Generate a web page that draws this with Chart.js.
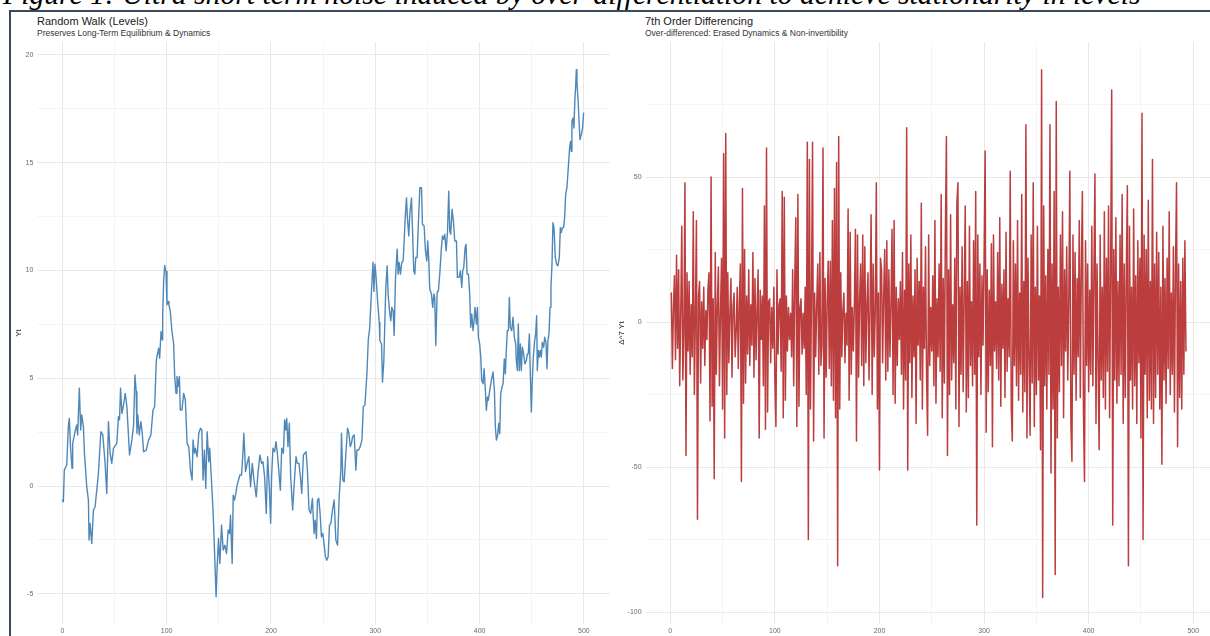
<!DOCTYPE html>
<html><head><meta charset="utf-8">
<script src="https://cdn.jsdelivr.net/npm/chart.js@4"></script>
<style>
html,body{margin:0;padding:0;background:#fff;width:1210px;height:636px;overflow:hidden;position:relative;font-family:"Liberation Sans",Arial,sans-serif;}
#cap{position:absolute;left:3px;top:-20px;font:italic 29.7px/29.7px "Liberation Serif","Times New Roman",serif;white-space:nowrap;color:#000;}
.vline{position:absolute;left:9px;top:10px;width:2px;height:626px;background:#3a4a5e;}
.hline{position:absolute;left:9px;top:10px;width:1201px;height:2px;background:#3a4a5e;}
.t{position:absolute;font-size:11px;line-height:12px;color:#1a1a1a;white-space:nowrap}
.s{position:absolute;font-size:8.5px;line-height:9px;color:#333;white-space:nowrap}
canvas{position:absolute;top:0}
</style></head><body>
<div id="cap">Figure 1: Ultra short term noise induced by over-differentiation to achieve stationarity in levels</div>
<div class="hline"></div><div class="vline"></div>
<div class="t" style="left:37px;top:15px">Random Walk (Levels)</div>
<div class="s" style="left:37px;top:28.5px">Preserves Long-Term Equilibrium &amp; Dynamics</div>
<div class="t" style="left:645px;top:15px">7th Order Differencing</div>
<div class="s" style="left:645px;top:28.5px">Over-differenced: Erased Dynamics &amp; Non-invertibility</div>
<canvas id="c1" width="612" height="636" style="left:0"></canvas>
<canvas id="c2" width="610" height="636" style="left:600px"></canvas>
<script>
// ---- Data ----
const rwT = [0,1,1.9,4.2,5.8,6.7,8.0,9.3,9.9,12.2,
13.8,14.7,16.3,17.6,18.6,20.2,21.2,23.4,25,25.6,
26.6,28.2,29.8,31.4,34.6,36.9,38.8,41,42.6,44.2,
45.8,47.4,49,52.2,53.8,54.8,55.8,57.1,58.7,60.3,
61.9,64.4,66.7,68.3,69.6,70.8,71.5,72.4,73.7,75.3,
76.6,77.9,80.4,82.7,84.9,86.9,88.5,90.1,92.3,93.3,
94.6,95.8,96.2,97.1,98.1,99.4,100.3,101.3,102.2,103.5,
105.1,106.7,107.7,109,109.9,110.9,112.2,113.1,114.7,116.3,
117.9,119.6,121.2,122.8,124.4,125.3,126.6,127.6,129.2,130.8,
132.4,133.7,134.9,136.2,137.5,138.8,140.4,141.3,142.6,144.6,
146.2,147.4,148.4,149.7,151,152.6,154.2,155.8,157.4,159,
160.3,161.2,162.8,163.8,165.1,166.3,167.6,168.9,170.2,171.8,
173.1,174,175.6,177.2,178.8,180.4,182.1,183.7,185.9,187.5,
189.4,191,192.3,193.9,195.5,196.8,198.4,199.7,200.6,201.9,
203.5,204.8,206.1,207.7,209,210.3,211.9,213.1,214.1,215.1,
216.3,217.6,218.9,220.8,222.1,224,225.3,226.9,228.5,229.5,
231.1,232.4,233.7,234.9,236.5,238.1,239.7,241.3,242.3,243.6,
244.6,245.8,247.1,248.4,249.7,251,252.2,253.5,254.8,256.1,
257.4,259,260.6,262.2,263.8,265.4,267,267.6,268.9,270.2,
271.8,273.4,274.7,276,277.2,278.2,279.8,281.4,282.4,284,
285.6,287.2,288.5,290.1,292,293.3,294.6,295.8,296.8,297.8,
298.7,299.7,300.6,302.2,303.8,304.4,306,306.9,308.2,309.1,
310.1,311.4,312.3,313.9,314.9,315.8,317.1,318.1,319.4,321,
321.9,322.9,324.1,325.4,326.7,327.7,328.6,329.9,330.8,332.1,
333.1,334.7,335.6,336.9,337.9,338.8,340.1,341.4,342.7,344.3,
345.2,346.8,348.1,349.4,350.3,351.3,352.2,353.8,355.1,356.1,
357,358,359.3,360.5,361.8,363.4,364.4,365.6,366.6,367.9,
369.2,370.4,371.4,372.3,373.6,374.9,376.2,377.8,378.7,380.3,
381.6,382.9,383.8,384.8,386.1,387,388,389.3,390.5,391.5,
392.5,393.7,394.7,395.6,396.9,397.9,398.8,400.1,401.1,402,
403.3,404.3,405.5,406.5,407.5,408.4,409.7,411.3,412.9,414.2,
415.1,416.1,417.3,418.3,419.3,420.2,421.5,422.5,423.7,424.7,
425.6,426.6,427.6,428.5,429.4,430.8,432,433.3,434.6,435.2,
436.2,437.1,438.1,439.1,440,441,442.2,443.5,444.8,445.8,
446.7,447.7,448.6,449.6,450.5,451.5,452.8,453.7,454.7,455.3,
456.3,457.2,458.2,459.2,460.1,461.4,462.4,463.6,464.6,465.5,
466.5,467.5,468.4,469.4,470.3,471.3,472.6,473.8,475.1,476.4,
477.4,478.3,479.3,480.5,481.5,482.5,483.7,485,486.3,487.2,
487.9,488.5,489.5,490.4,491.4,492,492.7,493.3,494.3,495.2,
496.2,497.5,498.7,499.7];
const rwY = [-0.65,-0.73,0.74,0.98,2.76,3.14,1.67,0.82,1.98,2.52,
2.83,2.37,4.54,2.6,3.3,2.76,1.52,-0.03,-0.65,-2.5,
-1.73,-2.66,-1.11,-0.96,0.59,2.52,2.37,1.05,-0.34,2.99,
1.52,1.05,1.75,1.98,3.22,3.07,4.54,3.37,3.76,4.3,
3.68,1.44,2.14,2.83,5.15,4.38,2.45,3.3,2.37,2.99,
2.45,1.59,1.67,2.14,2.37,3.53,3.68,5.85,6.39,5.93,
7.17,6.78,7.94,9.49,10.23,9.95,8.41,8.56,8.41,8.1,
7.17,6.6,5.08,4.3,5.08,4.61,5.08,3.53,3.53,4.3,
3.99,1.98,1.83,0.74,0.28,2.14,1.52,1.75,1.36,2.45,
2.68,2.6,0.28,1.67,-0.11,2.52,1.13,1.75,0.59,-1.27,
-3.44,-5.14,-3.75,-2.43,-3.59,-1.81,-2.97,-2.74,-3.13,-2.04,
-2.2,-1.35,-3.59,-0.42,-0.65,-0.34,0.05,0.28,0.51,0.51,
1.52,2.45,0.67,1.05,1.36,-0.03,1.05,0.28,-0.5,0.59,
1.44,1.05,1.13,0.43,-1.27,1.36,-0.03,-1.73,0.43,1.75,
1.59,2.06,1.52,0.59,-0.19,1.75,1.52,3.07,2.6,3.14,
1.83,2.91,0.43,-1.11,-0.03,1.36,1.05,1.05,0.28,-0.34,
1.44,1.52,1.59,0.74,-1.11,-1.27,-0.57,-2.2,-1.58,-2.43,
-0.65,-0.57,-1.27,-2.35,-2.2,-2.74,-3.28,-3.44,-3.28,-1.81,
-1.73,-1.11,-0.65,-2.5,-2.74,-0.5,0.74,2.45,0.28,0.2,
1.52,2.68,2.45,1.83,1.98,2.29,2.37,0.74,1.67,1.67,
1.83,2.14,3.68,3.76,5.23,6.8,7.3,8.5,9.49,10.39,
9.03,10.29,9.8,8.6,7.6,6.75,6.59,4.82,5.82,7.52,
9.21,10.22,8.91,7.98,7.67,8.29,8.14,6.98,9.68,10.99,
9.83,10.37,9.83,10.37,10.45,11.37,12.37,13.37,12.45,11.6,
12.6,13.37,11.99,9.98,9.83,10.6,10.6,12.3,13.84,13.84,
12.14,12.06,10.91,10.45,11.37,10.45,9.14,8.91,8.29,8.91,
8.75,6.52,8.98,9.06,9.83,11.06,11.6,11.45,11.68,10.91,
11.76,13.68,11.83,11.68,12.84,12.3,11.37,11.37,9.68,9.68,
9.98,9.21,9.98,10.14,11.06,11.22,9.83,9.83,8.91,7.37,
7.98,7.21,7.67,8.29,7.52,8.29,6.9,6.59,5.98,4.9,
4.75,5.44,4.44,3.51,4.13,3.98,4.44,4.9,5.29,4.44,
2.74,2.13,2.36,2.9,2.43,4.28,4.59,4.75,5.9,5.21,
6.29,7.21,7.21,8.75,7.37,7.21,7.83,6.9,6.59,5.82,
5.36,7.52,5.36,6.59,5.36,6.44,6.13,5.67,5.82,6.13,
6.13,7.06,5.21,3.44,4.9,5.98,6.75,7.06,7.9,5.36,
6.29,5.98,6.29,5.98,6.67,6.44,6.9,6.67,5.44,6.75,
7.06,8.29,9.21,10.29,12.22,11.99,10.6,10.29,10.22,10.6,
11.99,11.76,11.99,11.99,12.45,13.53,13.84,14.76,15.69,15.99,
15.53,16.92,17.07,16.61,18.0,18.46,19.31,18.69,18.0,17.07,
16.07,16.3,16.61,17.3];

const d7Y = [10,-16,5,16,-13,23,-9,18,-22,3,
33,-20,-4,48,-46,17,-10,14,-18,6,
-12,38,-25,2,35,-68,9,14,-21,7,
-9,12,-15,4,-6,11,17,-34,50,-29,
8,-54,24,-18,6,19,-22,4,22,-30,
58,-40,65,-25,17,-14,3,15,-19,5,
10,-12,-3,12,-16,7,20,-55,46,-28,
25,-21,9,-11,18,-15,6,-8,24,-19,
15,-13,4,18,-40,11,-6,9,-22,40,
-37,60,-31,7,8,-14,5,-9,12,-20,
-36,18,-11,6,8,-17,45,-33,43,-27,
9,-10,5,-6,3,-12,18,-22,14,36,
-36,44,-29,5,8,-11,3,-9,12,-25,
62,-75,56,-30,9,62,-41,10,-12,6,
20,-18,24,-15,-8,60,-40,15,-19,7,
21,-16,21,-22,35,-27,46,-33,55,-84,
64,-30,17,-12,4,10,-14,3,-8,39,
-27,31,-18,5,-10,6,32,-41,30,-19,
8,20,-15,30,-22,26,-14,6,17,-20,
5,37,-25,20,-12,4,48,-30,10,-51,
22,18,-14,9,25,-20,28,-17,18,-12,
6,32,-25,35,-28,12,-15,8,-6,14,
-18,24,-30,11,-20,67,-51,20,-14,30,
-26,9,-12,18,-35,22,-8,14,-20,41,
-30,12,-9,26,-18,-39,30,-15,5,-10,
16,-22,35,-28,8,-12,20,-17,44,-33,
15,-21,30,64,-46,18,-25,37,-20,6,
-14,22,-30,41,48,-36,12,-18,26,-24,
9,40,-31,14,-26,33,-15,7,-22,28,
-18,45,-70,30,-12,20,-25,16,-8,22,
59,-38,18,-24,11,-15,27,-43,30,-10,
7,-16,24,-20,36,-29,13,-9,18,-26,
31,-17,8,-12,52,-30,-41,28,-15,20,
-22,35,-27,10,-18,44,-31,14,-24,68,
-40,22,-13,-39,30,-21,48,-36,12,-25,
33,-20,9,-44,87,-95,40,-22,16,-30,
25,-18,68,-52,20,-30,45,-87,76,-40,
12,-24,30,-15,38,-33,18,-10,26,-20,
8,52,-35,-48,30,-18,24,-27,15,-12,
35,-26,19,45,-30,-55,28,-15,20,-24,
11,-18,33,-22,16,51,-35,20,-14,-44,
30,-20,12,-26,38,-30,22,-17,40,-33,
18,80,-70,25,-20,36,-28,14,-22,30,
-18,44,-35,20,-26,17,47,-84,33,-20,
12,-30,39,-22,16,-35,28,-14,22,-40,
72,-75,30,-18,25,-33,42,-27,14,-30,
56,-35,20,-26,31,-18,24,-30,12,-49,
33,-20,15,-28,22,-16,38,-25,10,-18,
26,-31,18,48,-43,20,-26,14,-30,22,
-18,28,-10];

const xMajor = [0,100,200,300,400,500];
const yMajorLeft = [-5,0,5,10,15,20];
const yMajorRight = [-100,-50,0,50];

// ---- Drawing ----
const FONT = "'Liberation Sans', Arial, sans-serif";
function withMinor(major, lo, hi) {
  const step = major[1] - major[0];
  const vals = new Set(major);
  major.forEach(m => { [m - step/2, m + step/2].forEach(v => { if (v >= lo && v <= hi) vals.add(v); }); });
  return [...vals].sort((a,b) => a-b);
}
function axis(major, lo, hi, isX, extra) {
  const all = withMinor(major, lo, hi);
  const majSet = new Set(major);
  return Object.assign({
    type: 'linear', min: lo, max: hi,
    afterBuildTicks: s => { s.ticks = all.map(v => ({value: v})); },
    ticks: {
      autoSkip: false, maxRotation: 0, padding: isX ? 3 : 4,
      font: {size: 7, family: FONT}, color: '#6b6b6b',
      callback: v => majSet.has(v) ? String(v) : ''
    },
    grid: {
      drawTicks: false,
      color: c => (c.tick && majSet.has(c.tick.value)) ? '#e9e9e9' : '#f2f2f2',
      lineWidth: c => (c.tick && majSet.has(c.tick.value)) ? 1 : 0.8
    },
    border: {display: false}
  }, extra);
}
function makeChart(id, pts, color, width, xr, yr, yMajor, yTitle, padLeft, yWidth) {
  new Chart(document.getElementById(id), {
    type: 'line',
    data: {datasets: [{data: pts, borderColor: color, borderWidth: width, pointRadius: 0,
      tension: 0, fill: false, borderJoinStyle: 'round', borderCapStyle: 'round'}]},
    options: {
      responsive: false, animation: false, devicePixelRatio: 1,
      parsing: false, normalized: true,
      layout: {padding: {left: padLeft, right: (id === 'c1') ? 2 : 0, top: 42, bottom: 0}},
      plugins: {legend: {display: false}, tooltip: {enabled: false}, title: {display: false}},
      scales: {
        x: axis(xMajor, xr[0], xr[1], true, {position: 'bottom', afterFit: s => { s.height = 12; }}),
        y: axis(yMajor, yr[0], yr[1], false, {position: 'left', afterFit: s => { s.width = yWidth; },
          title: {display: true, text: yTitle, color: '#222', font: {size: 8, family: FONT}, padding: {top: 4, bottom: 0}}})
      }
    }
  });
}
const rwPts = rwT.map((t, i) => ({x: t, y: rwY[i]}));
const d7Pts = d7Y.map((v, i) => ({x: i + 1, y: v}));
makeChart('c1', rwPts, 'rgba(70,130,180,0.95)', 1.4, [-24, 525], [-6.4, 20.6], yMajorLeft, 'Yt', 10, 27.3);
makeChart('c2', d7Pts, 'rgba(178,34,34,0.88)', 1.5, [-23.6, 516], [-104.1, 96.55], yMajorRight, 'Δ^7 Yt', 13, 32.6);
</script>
</body></html>
